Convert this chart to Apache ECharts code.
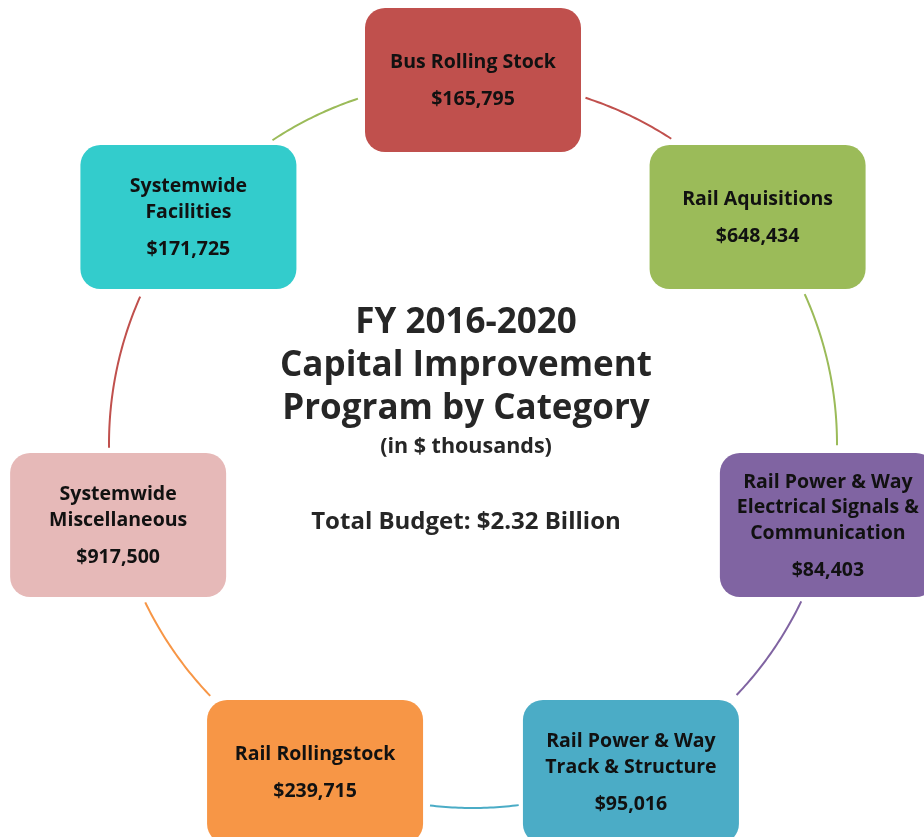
<!DOCTYPE html>
<html>
<head>
<meta charset="utf-8">
<script src="https://cdn.jsdelivr.net/npm/echarts@6/dist/echarts.min.js"></script>
<style>html,body{margin:0;padding:0;background:#fff}#c{width:924px;height:837px}</style>
</head>
<body>
<div id="c"></div>
<script>
// ---- data ----
var categories = [
  'Bus Rolling Stock',
  'Rail Aquisitions',
  'Rail Power & Way\nElectrical Signals &\nCommunication',
  'Rail Power & Way\nTrack & Structure',
  'Rail Rollingstock',
  'Systemwide\nMiscellaneous',
  'Systemwide\nFacilities'
];
var values = [165795, 648434, 84403, 95016, 239715, 917500, 171725];
var boxColors = ['#C0504D', '#9BBB59', '#8064A2', '#4BACC6', '#F79646', '#E6B9B8', '#33CCCC'];
var arcColors = ['#C0504D', '#9BBB59', '#8064A2', '#4BACC6', '#F79646', '#C0504D', '#9BBB59'];
var titleLines = ['FY 2016-2020', 'Capital Improvement', 'Program by Category'];
var subTitle = '(in $ thousands)';
var totalText = 'Total Budget: $2.32 Billion';

// ---- layout ----
var FONT = '"Open Sans", Lato, sans-serif';
var BOX_W = 216, BOX_H = 144, MARGIN = 4;
var n = categories.length;
function angleOf(i) { return i * 360 / n; }

var nodeData = categories.map(function (c, i) { return [1, angleOf(i), i]; });
var arcData = categories.map(function (c, i) { return [1, angleOf(i), i]; });

function inBox(p, c) {
  return Math.abs(p[0] - c[0]) <= BOX_W / 2 + MARGIN && Math.abs(p[1] - c[1]) <= BOX_H / 2 + MARGIN;
}

var centerX = 466;
var graphics = titleLines.map(function (t, k) {
  return {
    type: 'text', x: centerX, y: 323 + k * 43,
    style: { text: t, font: 'bold 35px ' + FONT, fill: '#262626', align: 'center', verticalAlign: 'middle' }
  };
});
graphics.push({
  type: 'text', x: centerX, y: 447,
  style: { text: subTitle, font: 'bold 21.5px ' + FONT, fill: '#262626', align: 'center', verticalAlign: 'middle' }
});
graphics.push({
  type: 'text', x: centerX, y: 522,
  style: { text: totalText, font: 'bold 24px ' + FONT, fill: '#262626', align: 'center', verticalAlign: 'middle' }
});

var chart = echarts.init(document.getElementById('c'), null, { renderer: 'canvas' });
chart.setOption({
  backgroundColor: '#ffffff',
  animation: false,
  polar: { center: [473, 444], radius: 364 },
  angleAxis: { type: 'value', min: 0, max: 360, startAngle: 90, clockwise: true, show: false },
  radiusAxis: { type: 'value', min: 0, max: 1, show: false },
  graphic: graphics,
  series: [
    {
      type: 'custom',
      coordinateSystem: 'polar',
      data: arcData,
      silent: true,
      z: 1,
      renderItem: function (params, api) {
        var i = api.value(2);
        var a0 = angleOf(i), a1 = angleOf(i + 1);
        var c0 = api.coord([1, a0 % 360]);
        var c1 = api.coord([1, a1 % 360]);
        var s = a0, e = a1;
        while (s < a1 && inBox(api.coord([1, s % 360]), c0)) s += 0.25;
        while (e > a0 && inBox(api.coord([1, e % 360]), c1)) e -= 0.25;
        var pts = [];
        for (var a = s; a <= e + 1e-6; a += 0.5) pts.push(api.coord([1, a % 360]));
        return {
          type: 'polyline',
          shape: { points: pts },
          style: { stroke: arcColors[i], lineWidth: 2, fill: null }
        };
      }
    },
    {
      type: 'custom',
      coordinateSystem: 'polar',
      data: nodeData,
      silent: true,
      z: 2,
      renderItem: function (params, api) {
        var i = api.value(2);
        var p = api.coord([1, angleOf(i)]);
        var lines = categories[i].split('\n');
        var LH = 25.5, GAP = 37;
        var span = (lines.length - 1) * LH + GAP;
        var firstY = p[1] - span / 2 + 1;
        var children = [{
          type: 'rect',
          shape: { x: p[0] - BOX_W / 2, y: p[1] - BOX_H / 2, width: BOX_W, height: BOX_H, r: 20 },
          style: { fill: boxColors[i] }
        }];
        lines.forEach(function (l, k) {
          children.push({
            type: 'text', x: p[0], y: firstY + k * LH,
            style: { text: l, font: 'bold 19.5px ' + FONT, fill: '#111111', align: 'center', verticalAlign: 'middle' }
          });
        });
        children.push({
          type: 'text', x: p[0], y: firstY + (lines.length - 1) * LH + GAP,
          style: { text: '$' + values[i].toLocaleString('en-US'), font: 'bold 19.5px ' + FONT, fill: '#111111', align: 'center', verticalAlign: 'middle' }
        });
        return { type: 'group', children: children };
      }
    }
  ]
});
</script>
</body>
</html>
